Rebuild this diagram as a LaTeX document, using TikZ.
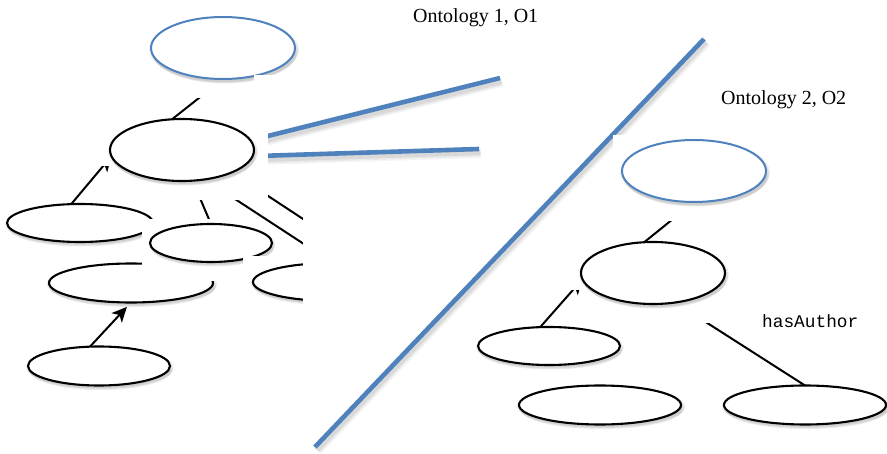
\documentclass[tikz,border=0pt]{standalone}
\usepackage{fontspec}
\setmainfont{Liberation Serif}
\newfontfamily\monofont{Liberation Mono}
\usetikzlibrary{shapes.geometric,arrows.meta,shadows}
\definecolor{ontoblue}{RGB}{79,129,189}
% drawing order: connectors, then alternating white boxes and classes
\pgfdeclarelayer{edges}
\pgfdeclarelayer{boxesA}
\pgfdeclarelayer{classesA}
\pgfdeclarelayer{boxesB}
\pgfdeclarelayer{classesB}
\pgfdeclarelayer{boxesC}
\pgfdeclarelayer{classesC}
\pgfdeclarelayer{boxesD}
\pgfsetlayers{edges,boxesA,classesA,boxesB,classesB,boxesC,classesC,boxesD,main}
\begin{document}
\begin{tikzpicture}[x=1pt,y=-1pt,
  softshadow/.style={
    drop shadow={fill=black, opacity=0.06, shadow xshift=1pt, shadow yshift=-1.5pt, shadow scale=1.04},
    drop shadow={fill=black, opacity=0.07, shadow xshift=1.5pt, shadow yshift=-3pt, shadow scale=1.02},
    drop shadow={fill=black, opacity=0.08, shadow xshift=1.5pt, shadow yshift=-4.5pt, shadow scale=1.0}},
  cls/.style={ellipse, draw=black, line width=2.1pt, fill=white,
    inner sep=0pt, outer sep=0pt, softshadow},
  rootcls/.style={cls, draw=ontoblue, line width=2pt},
  sz/.style 2 args={minimum width=#1pt, minimum height=#2pt},
  conn/.style={draw=black, line width=2pt},
  isa/.style={conn, -{Stealth[length=15pt,width=14pt,inset=4pt]}},
  blueline/.style={draw=ontoblue, line width=4.6pt},
  lsh/.style={draw=black, line width=#1},
  whitebox/.style={fill=white, draw=none},
  lbl/.style={inner sep=0pt, anchor=base west, font=\fontsize{20}{24}\selectfont}]
\useasboundingbox (0,0) rectangle (887,454);

% ---------- classes ----------
\begin{pgfonlayer}{classesA}
  \node[rootcls, sz={144}{62}] (A) at (223,48) {};
  \node[cls, sz={146}{38}] (C) at (80,223) {};
  \node[cls, sz={164}{39}] (E) at (131,283) {};
  \node[cls, sz={142}{39}] (G) at (99,366) {};
  \node[rootcls, sz={144}{62}] (H) at (694,171) {};
  \node[cls, sz={144}{62}] (I) at (653,273) {};
  \node[cls, sz={142}{38}] (J) at (549,346) {};
  \node[cls, sz={162}{39}] (K) at (600,405) {};
  \node[cls, sz={162}{39}] (L) at (805,405) {};
\end{pgfonlayer}
\begin{pgfonlayer}{classesB}
  \node[cls, sz={144}{62}] (B) at (182,150) {};
  \node[cls, sz={122}{38}] (D) at (211,243) {};
\end{pgfonlayer}
\begin{pgfonlayer}{classesC}
  \node[cls, sz={160}{38}] (F) at (333,282) {};
\end{pgfonlayer}

% ---------- connectors ----------
\coordinate (hid1) at (370,263);
\coordinate (m1) at (500,78);
\coordinate (m2) at (479,149);
\coordinate (d1) at (315,447);
\coordinate (d2) at (704,39);
\begin{pgfonlayer}{edges}
  % separator between the two ontologies
  \foreach \w/\o in {11/0.04,8/0.05,5/0.07}
    \draw[lsh=\w pt, opacity=\o] ([shift={(2,3)}]d1) -- ([shift={(2,3)}]d2);
  \draw[blueline] (d1) -- (d2);
  % mapping lines leaving O1
  \foreach \w/\o in {11/0.04,8/0.05,5/0.07}{
    \draw[lsh=\w pt, opacity=\o] ([shift={(1.5,3.5)}]B.8) -- ([shift={(1.5,3.5)}]m1);
    \draw[lsh=\w pt, opacity=\o] ([shift={(1.5,3.5)}]B.-5) -- ([shift={(1.5,3.5)}]m2);
  }
  \draw[blueline] (B.8) -- (m1);
  \draw[blueline] (B.-5) -- (m2);
  % O1 relations
  \draw[conn] (B.108) -- (A.south);
  \draw[conn] (B.-71) -- (D.north);
  \draw[conn] (B.-52) -- (F.north);
  \draw[conn] (B.-24) -- (hid1);
  \draw[isa] (C.115) -- (B.185);
  \draw[isa, shorten >=6pt] (G.115) -- (E.south);
  % O2 relations
  \draw[conn] (I.106) -- (H.south);
  \draw[isa] (J.115) -- (I.185);
  \draw[conn] (I.-53) -- (L.north);
\end{pgfonlayer}

% ---------- blank label boxes ----------
\begin{pgfonlayer}{boxesA}
  \fill[whitebox] (150,60) rectangle (253,98);
  \fill[whitebox] (88,148) rectangle (125,166);
  \fill[whitebox] (130,168) rectangle (268,200);
  \fill[whitebox] (558,262) rectangle (590,290);
  \fill[whitebox] (615,290) rectangle (740,323);
  \fill[whitebox] (613,135) rectangle (775,221);
\end{pgfonlayer}
\begin{pgfonlayer}{boxesB}
  \fill[whitebox] (254,75) rectangle (300,86);
  \fill[whitebox] (240,86) rectangle (268,200);
  \fill[whitebox] (142,219) rectangle (243,281);
\end{pgfonlayer}
\begin{pgfonlayer}{boxesC}
  \fill[whitebox] (243,256) rectangle (303,300);
\end{pgfonlayer}
\begin{pgfonlayer}{boxesD}
  \fill[whitebox] (303,185) rectangle (420,320);
\end{pgfonlayer}

% ---------- texts ----------
\node[lbl] (o1) at (413,22.5) {Ontology 1, O1};
\node[lbl] (o2) at (721,104.3) {Ontology 2, O2};
\node[inner sep=0pt, anchor=base west, font=\monofont\fontsize{17.8}{20}\selectfont] (ha) at (762,327.5) {hasAuthor};
\end{tikzpicture}
\end{document}
